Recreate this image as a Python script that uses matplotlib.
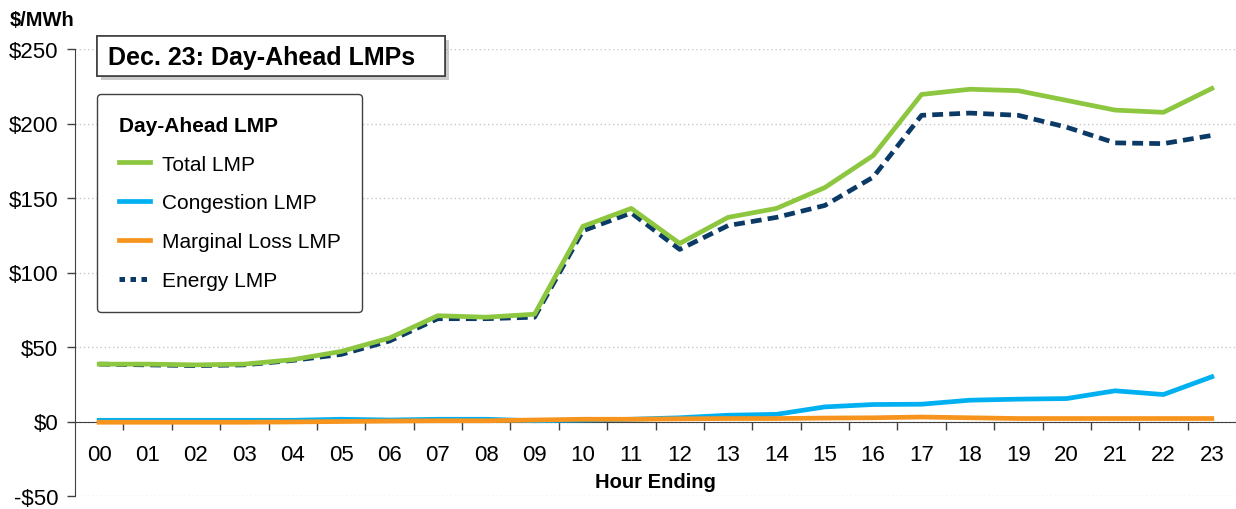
import matplotlib
matplotlib.use("Agg")
import matplotlib.pyplot as plt
import matplotlib.patheffects as pe
from matplotlib.patches import Rectangle
from matplotlib.lines import Line2D
from matplotlib.ticker import FixedLocator

plt.rcParams['font.family'] = ['Liberation Sans', 'DejaVu Sans']

hours = ['00', '01', '02', '03', '04', '05', '06', '07', '08', '09', '10', '11',
         '12', '13', '14', '15', '16', '17', '18', '19', '20', '21', '22', '23']

total_lmp = [38.5, 38.5, 38.0, 38.5, 41.5, 47.0, 56.0, 71.0, 70.0, 72.0, 131.0, 143.0,
             119.5, 137.0, 143.0, 157.0, 178.5, 219.5, 223.0, 222.0, 215.5, 209.0, 207.5, 223.5]
congestion_lmp = [0.8, 0.8, 0.8, 0.8, 0.8, 1.5, 1.0, 1.5, 1.5, 0.5, 1.0, 1.5,
                  2.5, 4.2, 4.8, 9.8, 11.4, 11.6, 14.3, 15.0, 15.4, 20.6, 18.1, 30.0]
loss_lmp = [-0.5, -0.5, -0.5, -0.5, -0.3, 0.0, 0.3, 0.5, 0.5, 1.0, 1.5, 1.5,
            1.8, 2.0, 2.0, 2.3, 2.5, 3.0, 2.5, 2.0, 2.0, 2.0, 2.0, 2.0]
energy_lmp = [38.5, 38.0, 37.5, 38.0, 41.0, 45.0, 54.0, 69.0, 69.0, 70.0, 128.0, 140.0,
              115.5, 131.5, 137.0, 145.0, 164.0, 205.5, 207.0, 205.5, 197.5, 187.0, 186.5, 192.0]

y_ticks = [-50, 0, 50, 100, 150, 200, 250]
y_labels = ['-$50', '$0', '$50', '$100', '$150', '$200', '$250']

W, H = 1236, 510
fig = plt.figure(figsize=(W / 100, H / 100), dpi=100)
ax = fig.add_axes([75 / W, 1 - 497 / H, (W - 75) / W, 447 / H])

x = list(range(len(hours)))
l_total, = ax.plot(x, total_lmp, color='#8DC63F', lw=3.4, zorder=4, label='Total LMP')
l_cong, = ax.plot(x, congestion_lmp, color='#00B0F0', lw=3.4, zorder=3, label='Congestion LMP')
l_loss, = ax.plot(x, loss_lmp, color='#F7941D', lw=3.4, zorder=3.5, label='Marginal Loss LMP')
l_energy, = ax.plot(x, energy_lmp, color='#0B3A66', lw=3.4, ls=(0, (2.3, 1.3)),
                    zorder=3.8, label='Energy LMP')

# square-dot handle for the legend, like the original
energy_handle = Line2D([], [], color='#0B3A66', lw=3.6, ls=(0, (1.1, 1.1)), label='Energy LMP')

ax.set_xlim(-0.5, len(hours) - 0.5)
ax.set_ylim(-50, 250)

ax.set_yticks(y_ticks)
ax.set_yticklabels(y_labels)
ax.set_xticks(x)
ax.set_xticklabels(hours)
ax.xaxis.set_minor_locator(FixedLocator([i + 0.5 for i in x[:-1]]))
ax.tick_params(axis='x', which='major', length=0, pad=16, labelsize=16)
ax.tick_params(axis='x', which='minor', length=6, width=1, color='#404040', direction='out')
ax.tick_params(axis='y', length=6, width=1, color='#404040', pad=6, labelsize=16)

for s in ['top', 'right']:
    ax.spines[s].set_visible(False)
ax.spines['bottom'].set_position(('data', 0))
ax.spines['left'].set_color('#404040')
ax.spines['bottom'].set_color('#404040')
ax.yaxis.grid(True, linestyle=(0, (1, 2)), color='#C8C8C8', lw=1)
ax.set_axisbelow(True)

ax.set_xlabel('Hour Ending', fontsize=14.5, fontweight='bold', labelpad=5)

fig.text(10 / W, 1 - 21 / H, '$/MWh', fontsize=14.5, fontweight='bold', va='center', ha='left')

# title box with shadow
box = Rectangle((97 / W, 1 - 77 / H), (445 - 97) / W, 40 / H, transform=fig.transFigure,
                facecolor='white', edgecolor='#404040', lw=1.2, zorder=5)
box.set_path_effects([pe.withSimplePatchShadow(offset=(3, -3), shadow_rgbFace='#999999', alpha=0.5),
                      pe.Normal()])
fig.add_artist(box)
fig.text(108 / W, 1 - 58 / H, 'Dec. 23: Day-Ahead LMPs', fontsize=18, fontweight='bold',
         va='center', ha='left', zorder=6)

leg = ax.legend(handles=[l_total, l_cong, l_loss, energy_handle], loc='upper left',
                bbox_to_anchor=(22 / (W - 75), 1 - 45 / 447), borderaxespad=0,
                title='Day-Ahead LMP', title_fontproperties={'weight': 'bold', 'size': 15},
                fontsize=15, frameon=True, fancybox=True, framealpha=1,
                edgecolor='#404040', handlelength=1.5, handletextpad=0.55,
                labelspacing=0.95, borderpad=1.05, alignment='left')
leg.get_frame().set_linewidth(1.0)
leg.set_zorder(10)

fig.savefig('out.png', dpi=100)
